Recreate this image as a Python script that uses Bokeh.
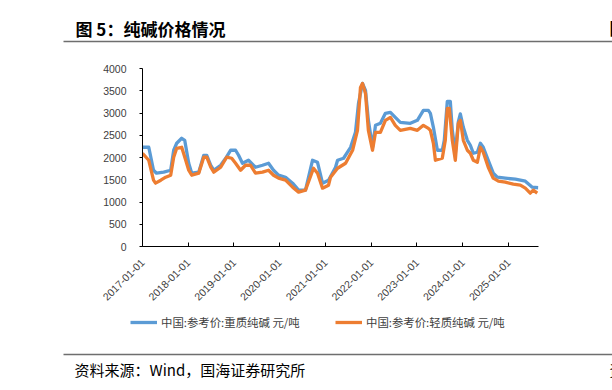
import pandas as pd
from bokeh.plotting import figure
from bokeh.layouts import column
from bokeh.models import Label, Legend, LegendItem, FixedTicker, Range1d
from bokeh.embed import file_html
from bokeh.resources import INLINE

# ---------------- data ----------------
heavy_dates = ["2017-01-01", "2017-02-20", "2017-03-30", "2017-04-23", "2017-06-19", "2017-08-14",
               "2017-09-07", "2017-10-01", "2017-11-10", "2017-12-04", "2018-01-05", "2018-01-29",
               "2018-03-26", "2018-05-05", "2018-05-29", "2018-06-30", "2018-07-24", "2018-09-17",
               "2018-10-27", "2018-12-06", "2019-01-14", "2019-02-07", "2019-03-10", "2019-04-27",
               "2019-06-22", "2019-08-17", "2019-10-04", "2019-11-13", "2019-12-23", "2020-02-17",
               "2020-04-13", "2020-05-31", "2020-07-25", "2020-09-19", "2020-10-29", "2020-12-08",
               "2021-01-25", "2021-03-22", "2021-04-07", "2021-05-25", "2021-07-20", "2021-08-28",
               "2021-09-21", "2021-10-23", "2021-11-16", "2021-12-09", "2022-01-11", "2022-02-04",
               "2022-03-15", "2022-04-24", "2022-06-03", "2022-07-12", "2022-08-21", "2022-11-09",
               "2023-01-04", "2023-02-21", "2023-04-02", "2023-04-18", "2023-05-12", "2023-06-13",
               "2023-07-22", "2023-08-07", "2023-08-31", "2023-09-24", "2023-10-10", "2023-11-03",
               "2023-11-27", "2023-12-13", "2024-01-06", "2024-02-07", "2024-03-02", "2024-03-26",
               "2024-04-27", "2024-05-21", "2024-06-13", "2024-07-23", "2024-09-01", "2024-10-03",
               "2024-12-06", "2025-02-24", "2025-05-15", "2025-07-09", "2025-08-26"]
heavy_vals = [2230, 2230, 1714, 1647, 1670, 1714,
              2163, 2320, 2432, 2387, 1871, 1647,
              1670, 2050, 2050, 1826, 1714, 1826,
              1983, 2163, 2163, 2050, 1871, 1938,
              1781, 1826, 1871, 1714, 1602, 1557,
              1423, 1266, 1266, 1938, 1893, 1423,
              1490, 1781, 1938, 1983, 2230, 2566,
              3216, 3664, 3507, 2835, 2230, 2723,
              2768, 2992, 3014, 2902, 2790, 2768,
              2835, 3059, 3059, 2992, 2678, 2163,
              2163, 2387, 3260, 3260, 2611, 2095,
              2800, 2980, 2678, 2387, 2275, 2095,
              2118, 2320, 2230, 1938, 1647, 1557,
              1535, 1512, 1468, 1334, 1320]

light_dates = ["2017-01-01", "2017-02-20", "2017-03-30", "2017-04-15", "2017-05-27", "2017-07-05",
               "2017-08-14", "2017-09-07", "2017-10-01", "2017-11-10", "2017-12-12", "2018-01-05",
               "2018-01-29", "2018-03-26", "2018-05-05", "2018-05-29", "2018-06-30", "2018-07-24",
               "2018-09-17", "2018-11-04", "2018-12-14", "2019-01-14", "2019-02-23", "2019-04-03",
               "2019-05-13", "2019-06-22", "2019-08-17", "2019-10-04", "2019-11-13", "2019-12-23",
               "2020-02-17", "2020-04-13", "2020-05-31", "2020-07-25", "2020-09-27", "2020-10-29",
               "2020-12-08", "2021-01-25", "2021-02-10", "2021-04-07", "2021-06-10", "2021-08-05",
               "2021-09-13", "2021-10-07", "2021-10-23", "2021-11-16", "2021-12-09", "2022-01-11",
               "2022-02-04", "2022-03-15", "2022-04-24", "2022-06-03", "2022-07-12", "2022-08-21",
               "2022-11-09", "2023-01-04", "2023-02-21", "2023-04-02", "2023-04-18", "2023-05-12",
               "2023-05-28", "2023-07-22", "2023-08-15", "2023-08-31", "2023-09-16", "2023-10-10",
               "2023-11-03", "2023-11-27", "2023-12-13", "2024-01-06", "2024-02-07", "2024-03-02",
               "2024-03-26", "2024-04-27", "2024-05-21", "2024-06-13", "2024-07-23", "2024-09-01",
               "2024-10-12", "2024-12-06", "2025-02-08", "2025-04-05", "2025-05-15", "2025-06-23",
               "2025-07-17", "2025-08-18"]
light_vals = [2095, 1938, 1490, 1423, 1490, 1557,
              1602, 2006, 2207, 2230, 1938, 1714,
              1602, 1647, 2006, 2006, 1781, 1670,
              1781, 2006, 1983, 1871, 1714, 1826,
              1826, 1647, 1670, 1714, 1602, 1535,
              1490, 1334, 1221, 1266, 1759, 1647,
              1311, 1378, 1557, 1759, 1871, 2163,
              2611, 3574, 3664, 3440, 2611, 2163,
              2566, 2566, 2835, 2902, 2723, 2611,
              2656, 2611, 2723, 2656, 2611, 2320,
              1938, 1983, 2387, 3104, 3104, 2387,
              1938, 2768, 2835, 2387, 2163, 2095,
              1938, 1893, 2230, 2118, 1781, 1535,
              1468, 1445, 1400, 1378, 1311, 1199,
              1266, 1199]

tick_labels = ["2017-01-01", "2018-01-01", "2019-01-01", "2020-01-01", "2021-01-01",
               "2022-01-01", "2023-01-01", "2024-01-01", "2025-01-01"]
y_ticks = [0, 500, 1000, 1500, 2000, 2500, 3000, 3500, 4000]
x_start, x_end = "2017-01-01", "2025-08-28"

series_names = ["中国:参考价:重质纯碱 元/吨", "中国:参考价:轻质纯碱 元/吨"]
title_text = "图 5：纯碱价格情况"
source_text = "资料来源：Wind，国海证券研究所"

BLUE = "#5B9BD5"
ORANGE = "#ED7D31"
CJK = "Noto Sans CJK SC"


def ms(d):
    return pd.Timestamp(d).value / 1e6


hx = [ms(d) for d in heavy_dates]
lx = [ms(d) for d in light_dates]
tick_vals = [ms(d) for d in tick_labels]

W = 612
H_HEAD, H_MAIN, H_FOOT = 60, 250, 80
FL, FT, FW, FH = 142, 8, 396, 178


def blank(h):
    f = figure(width=W, height=h, output_backend="svg", toolbar_location=None,
               x_range=Range1d(0, W), y_range=Range1d(h, 0),
               x_axis_type=None, y_axis_type=None, min_border=0, frame_align=False)
    f.outline_line_color = None
    f.xgrid.visible = False
    f.ygrid.visible = False
    f.background_fill_color = "white"
    f.border_fill_color = "white"
    return f


# ---------------- header ----------------
head = blank(H_HEAD)
head.add_layout(Label(x=75, y=28, text=title_text, text_font=CJK, text_font_style="bold",
                      text_font_size="17px", text_color="black", text_baseline="middle",
                      text_align="left"))
head.add_layout(Label(x=609, y=27, text="图", text_font=CJK, text_font_style="bold",
                      text_font_size="17px", text_color="black", text_baseline="middle",
                      text_align="left"))
head.segment(x0=[63], y0=[41], x1=[W], y1=[41], line_color="#6e6e6e", line_width=1.6)

# ---------------- main chart ----------------
p = figure(width=W, height=H_MAIN, output_backend="svg", toolbar_location=None,
           x_range=Range1d(ms(x_start), ms(x_end)), y_range=Range1d(0, 4000),
           min_border_left=FL, min_border_top=FT, frame_align=False,
           min_border_right=W - FL - FW, min_border_bottom=H_MAIN - FT - FH)
p.outline_line_color = None
p.xgrid.visible = False
p.ygrid.visible = False
p.background_fill_color = "white"
p.border_fill_color = "white"

p.line(hx, heavy_vals, line_color=BLUE, line_width=3.3, line_join="round")
p.line(lx, light_vals, line_color=ORANGE, line_width=3.3, line_join="round")

xa = p.xaxis[0]
xa.ticker = FixedTicker(ticks=tick_vals)
xa.major_label_overrides = {v: t for v, t in zip(tick_vals, tick_labels)}
xa.major_label_orientation = 0.785398
xa.major_tick_in = 4
xa.major_tick_out = 0
xa.minor_tick_line_color = None
xa.axis_line_color = "black"
xa.major_tick_line_color = "black"
xa.major_label_text_font = "Liberation Sans"
xa.major_label_text_font_size = "10.5px"
xa.major_label_text_color = "#404040"
xa.major_label_standoff = 14

ya = p.yaxis[0]
ya.ticker = FixedTicker(ticks=y_ticks)
ya.major_tick_in = 0
ya.major_tick_out = 3
ya.minor_tick_line_color = None
ya.axis_line_color = "black"
ya.major_tick_line_color = "black"
ya.major_label_text_font = "Liberation Sans"
ya.major_label_text_font_size = "10.5px"
ya.major_label_text_color = "#404040"
ya.major_label_standoff = 13

# ---------------- footer ----------------
foot = blank(H_FOOT)
nan = float("nan")
d1 = foot.line(x=[nan], y=[nan], line_color=BLUE, line_width=3.3)
d2 = foot.line(x=[nan], y=[nan], line_color=ORANGE, line_width=3.3)
for r, name, lx0 in [(d1, series_names[0], 130), (d2, series_names[1], 335)]:
    lg = Legend(items=[LegendItem(label=name, renderers=[r])],
                location=(lx0, H_FOOT - 20), orientation="horizontal",
                glyph_width=27, glyph_height=14, label_height=14, label_standoff=4,
                padding=0, margin=0, border_line_color=None, background_fill_alpha=0,
                label_text_font=CJK, label_text_font_size="11.4px",
                label_text_color="#404040")
    foot.add_layout(lg, "center")
foot.segment(x0=[63], y0=[44], x1=[W], y1=[44], line_color="#6e6e6e", line_width=1.6)
foot.add_layout(Label(x=74, y=59, text=source_text, text_font=CJK, text_font_size="15px",
                      text_color="black", text_baseline="middle", text_align="left"))
foot.add_layout(Label(x=609, y=59, text="资", text_font=CJK, text_font_size="15px",
                      text_color="black", text_baseline="middle", text_align="left"))

layout = column(head, p, foot, spacing=0)
open("out.html", "w").write(file_html(layout, INLINE))
